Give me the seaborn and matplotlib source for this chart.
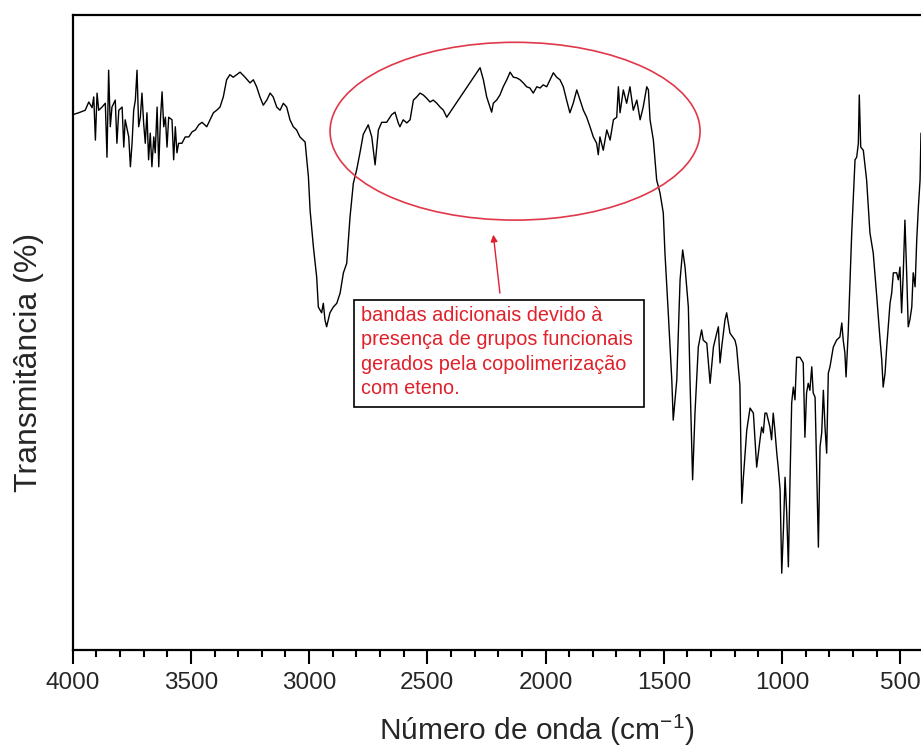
import numpy as np
import pandas as pd
import matplotlib
matplotlib.use("Agg")
import matplotlib.pyplot as plt
import seaborn as sns
from matplotlib.patches import Ellipse, Rectangle
from matplotlib.ticker import MultipleLocator

sns.set_style("white")
plt.rcParams['font.family'] = ['Liberation Sans', 'DejaVu Sans']
plt.rcParams['mathtext.default'] = 'regular'

# ---- Spectrum data (wavenumber in cm-1, transmittance in arbitrary %) ----
wn_a = [4000, 3975, 3947, 3932, 3918, 3911, 3904, 3897, 3890, 3876, 3862, 3855, 3848, 3841, 3834,
        3820, 3813, 3805, 3791, 3784, 3778, 3763, 3756, 3749, 3742, 3735, 3728, 3721, 3714, 3707,
        3700, 3693, 3686, 3679, 3672, 3665, 3657, 3651, 3643, 3636, 3629, 3622, 3615, 3608, 3601,
        3594, 3580, 3573, 3566, 3559, 3552, 3538, 3524, 3509, 3495, 3481, 3467, 3453]
t_a = [84.3, 84.6, 85.0, 86.3, 85.4, 87.1, 80.3, 87.7, 85.0, 85.5, 86.1, 77.6, 91.3, 82.4, 85.5,
       86.6, 79.8, 85.0, 85.5, 79.2, 83.5, 80.8, 76.1, 79.8, 85.0, 86.6, 91.3, 82.4, 83.9, 87.7,
       83.0, 79.8, 84.6, 77.2, 81.4, 76.1, 80.8, 78.3, 85.5, 76.1, 83.5, 87.9, 82.4, 83.9, 79.2,
       83.9, 83.5, 77.2, 82.4, 78.3, 79.8, 79.8, 80.8, 80.8, 81.6, 81.9, 82.7, 83.1]

wn_b = [3433, 3419, 3405, 3391, 3377, 3363, 3349, 3335, 3321, 3292, 3271, 3250, 3236, 3222, 3208,
        3194, 3179, 3165, 3152, 3137, 3123, 3109, 3095, 3081, 3067, 3053, 3039, 3017, 3003, 2996,
        2982, 2968, 2961, 2947, 2940, 2933, 2926, 2912, 2898, 2883, 2869, 2855, 2841, 2827, 2813,
        2799, 2785, 2771]
t_b = [82.4, 83.5, 84.6, 85.0, 85.5, 87.1, 89.8, 90.6, 90.2, 91.0, 90.2, 89.3, 89.8, 88.7, 87.1,
       85.8, 86.6, 87.7, 87.1, 85.5, 85.0, 86.1, 85.5, 83.5, 82.4, 81.9, 80.8, 80.0, 74.5, 69.3,
       63.5, 58.7, 54.0, 53.1, 54.6, 52.0, 50.9, 53.1, 54.0, 54.6, 56.2, 59.4, 60.9, 68.2, 73.5,
       75.6, 78.3, 81.2]

wn_c = [2750, 2735, 2721, 2707, 2693, 2672, 2651, 2637, 2623, 2616, 2602, 2587, 2573, 2559, 2545,
        2531, 2517, 2503, 2489, 2475, 2460, 2446, 2432, 2418, 2277, 2263, 2249, 2235, 2228, 2221,
        2207, 2193, 2179, 2164, 2150, 2136, 2122, 2108, 2094, 2080, 2066, 2052, 2037, 2023, 2010,
        1995, 1981, 1967, 1953, 1939, 1925, 1911, 1897, 1883, 1868, 1854, 1840, 1826, 1812, 1798,
        1784, 1777, 1770, 1756, 1741, 1727, 1713, 1699, 1692, 1685, 1671, 1657, 1643, 1629, 1614,
        1600, 1587, 1572, 1565, 1558, 1544, 1530, 1516, 1502]
t_c = [82.7, 80.8, 76.4, 81.9, 83.1, 83.1, 84.3, 84.7, 83.0, 82.4, 83.5, 83.0, 83.5, 86.6, 87.1,
       87.7, 87.4, 86.9, 86.3, 86.6, 86.1, 85.5, 85.0, 83.9, 91.7, 89.8, 87.1, 85.5, 84.7, 86.1,
       86.6, 87.4, 88.7, 89.8, 91.0, 90.2, 90.1, 89.8, 89.3, 88.7, 88.5, 87.7, 88.7, 88.5, 89.0,
       88.7, 89.8, 90.9, 90.2, 89.8, 88.7, 86.6, 84.6, 86.1, 88.2, 86.6, 85.0, 83.9, 82.4, 80.8,
       79.8, 78.0, 80.8, 78.7, 81.9, 80.3, 83.5, 83.9, 88.7, 84.6, 88.2, 86.1, 88.7, 85.0, 86.6,
       83.5, 85.5, 88.7, 88.2, 83.5, 80.3, 74.0, 72.0, 68.8]

wn_d = [1495, 1481, 1466, 1460, 1445, 1431, 1420, 1410, 1396, 1389, 1378, 1368, 1354, 1340, 1333,
        1318, 1304, 1290, 1276, 1269, 1262, 1255, 1241, 1234, 1220, 1199, 1192, 1178, 1170, 1164,
        1149, 1135, 1121, 1107, 1100, 1093, 1086, 1079, 1072, 1065, 1058, 1051, 1044, 1037, 1030,
        1022, 1016, 1008, 1001, 994, 987, 980, 973, 966, 959, 952, 945, 938, 924, 910,
        903, 896, 889, 882, 874, 868, 860, 846, 839, 832, 825, 818, 811, 804, 797,
        783, 769, 755, 747, 741, 734, 729, 720, 705, 691, 684, 677, 673, 667, 656,
        642, 628, 614, 599, 585, 578, 572, 564, 557, 543, 536, 529, 515, 508, 501,
        494, 487, 480, 473, 466, 459, 451, 445, 437, 430, 423, 416, 412]
t_d = [62.5, 53.1, 42.5, 36.2, 42.5, 58.3, 63.0, 60.3, 54.0, 42.5, 26.8, 37.3, 47.7, 50.4, 48.8,
       48.3, 42.0, 47.7, 49.9, 50.9, 45.2, 47.7, 52.0, 53.1, 49.9, 48.8, 47.7, 41.7, 23.1, 26.8,
       34.6, 38.1, 37.3, 28.8, 31.0, 33.1, 35.1, 34.2, 37.3, 37.3, 36.2, 35.1, 33.1, 37.3, 34.6,
       31.0, 28.8, 25.2, 12.1, 18.9, 27.2, 21.6, 13.1, 26.8, 38.9, 41.4, 39.4, 46.1, 46.1, 45.2,
       33.5, 40.5, 42.0, 40.9, 44.6, 40.5, 39.8, 16.2, 32.0, 34.2, 40.9, 35.1, 31.0, 43.6, 44.6,
       47.7, 48.8, 49.3, 51.5, 48.8, 46.8, 43.0, 49.9, 65.7, 77.2, 77.6, 79.8, 87.4, 79.2, 78.7,
       74.0, 65.7, 62.5, 55.6, 48.8, 45.7, 41.4, 43.6, 47.7, 54.6, 56.2, 59.4, 59.4, 58.3, 60.3,
       53.1, 59.4, 67.7, 59.8, 50.9, 52.0, 54.0, 59.4, 57.2, 64.6, 69.8, 74.0, 81.4]

x_ticks = [4000, 3500, 3000, 2500, 2000, 1500, 1000, 500]
x_label = "Número de onda (cm$^{-1}$)"
y_label = "Transmitância (%)"
note_text = ("bandas adicionais devido à\n"
             "presença de grupos funcionais\n"
             "gerados pela copolimerização\n"
             "com eteno.")

df = pd.DataFrame({"wn": wn_a + wn_b + wn_c + wn_d,
                   "T": t_a + t_b + t_c + t_d})

fig = plt.figure(figsize=(9.21, 7.51), dpi=100)
W, H = 921.0, 751.0
ax = fig.add_axes([72.7 / W, 101 / H, 1 - 72.7 / W, 635 / H])

sns.lineplot(data=df, x="wn", y="T", sort=False, estimator=None,
             color="black", lw=1.0, ax=ax)

ax.set_xlim(4000, 412)
ax.set_ylim(0, 100)
ax.set_xlabel("")
ax.set_ylabel("")

ax.set_xticks(x_ticks)
ax.set_xticklabels([str(v) for v in x_ticks])
ax.xaxis.set_minor_locator(MultipleLocator(100))
ax.tick_params(axis="x", which="major", direction="out", length=10, width=1.5,
               labelsize=17.5, pad=6, bottom=True, top=False, color="black")
ax.tick_params(axis="x", which="minor", direction="out", length=5, width=1.5,
               bottom=True, top=False, color="black")
ax.tick_params(axis="y", left=False, labelleft=False)

for side in ["left", "top", "bottom"]:
    ax.spines[side].set_linewidth(1.6)
    ax.spines[side].set_color("black")
ax.spines["right"].set_visible(False)

# annotation ellipse
ell = Ellipse((2129, 81.7), width=1565, height=28.0, fill=False,
              edgecolor="#e0384a", lw=1.2, zorder=4)
ax.add_patch(ell)

# arrow
ax.annotate("", xy=(2221, 65.4), xytext=(2193, 56.2),
            arrowprops=dict(arrowstyle="-|>", color="#e02030", lw=1.0,
                            mutation_scale=10, shrinkA=0, shrinkB=0))

# text box
box = Rectangle((1582, 38.3), 1228, 16.8, facecolor="white", edgecolor="black",
                lw=1.2, zorder=5)
ax.add_patch(box)
ax.text(2782, 54.2, note_text, ha="left", va="top", fontsize=14.3,
        color="#e0202a", linespacing=1.36, zorder=6)

fig.text(29 / W, 1 - 362 / H, y_label, rotation=90, ha="center", va="center",
         fontsize=23)
fig.text(537 / W, 1 - 730 / H, x_label, ha="center", va="center", fontsize=21.5)

fig.savefig("out.png", dpi=100, facecolor="white")
